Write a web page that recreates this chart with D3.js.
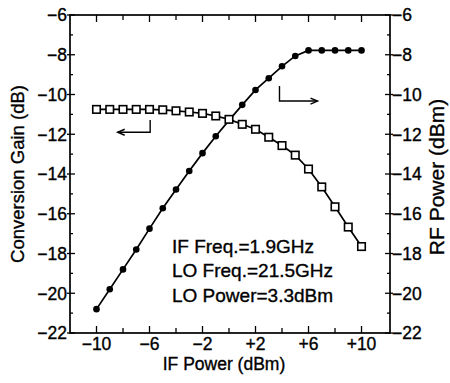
<!DOCTYPE html>
<html>
<head>
<meta charset="utf-8">
<script src="https://cdn.jsdelivr.net/npm/d3@7"></script>
<style>
  html, body { margin: 0; padding: 0; background: #fff; }
  svg { display: block; }
  text { font-family: "Liberation Sans", Arial, Helvetica, sans-serif; fill: #000; stroke: #000; stroke-width: 0.35px; }
</style>
</head>
<body>
<svg id="chart" width="450" height="383"></svg>
<script>
// ---- Data ----
const ifPower = [-10, -9, -8, -7, -6, -5, -4, -3, -2, -1, 0, 1, 2, 3, 4, 5, 6, 7, 8, 9, 10];
const conversionGain = [-10.75, -10.75, -10.75, -10.75, -10.75, -10.77, -10.82, -10.88, -10.95, -11.08, -11.25,
                        -11.5, -11.75, -12.15, -12.57, -13.05, -13.75, -14.65, -15.65, -16.67, -17.65];
const rfPower = [-20.8, -19.8, -18.8, -17.8, -16.75, -15.72, -14.78, -13.85, -12.95, -12.1, -11.3,
                 -10.52, -9.77, -9.18, -8.58, -8.06, -7.78, -7.78, -7.78, -7.78, -7.78];
const xTickValues = [-10, -8, -6, -4, -2, 0, 2, 4, 6, 8, 10];
const xTickLabels = ["\u221210", "", "\u22126", "", "\u22122", "", "+2", "", "+6", "", "+10"];
const yTickValues = [-22, -21, -20, -19, -18, -17, -16, -15, -14, -13, -12, -11, -10, -9, -8, -7, -6];
const yMajorLabels = ["\u221222", "\u221220", "\u221218", "\u221216", "\u221214", "\u221212", "\u221210", "\u22128", "\u22126"];
const annotationLines = ["IF Freq.=1.9GHz", "LO Freq.=21.5GHz", "LO Power=3.3dBm"];
const xTitle = "IF Power (dBm)";
const yLeftTitle = "Conversion Gain (dB)";
const yRightTitle = "RF Power (dBm)";

// ---- Layout ----
const L = 70, R = 390, T = 15, B = 333;
const svg = d3.select("#chart");
const x = d3.scaleLinear().domain([-12, 12.15]).range([L, R]);
const y = d3.scaleLinear().domain([-22, -6]).range([B, T]);

// frame
svg.append("rect").attr("x", L).attr("y", T).attr("width", R - L).attr("height", B - T)
  .attr("fill", "none").attr("stroke", "#000").attr("stroke-width", 1.7);

// x ticks (bottom & top, inward)
xTickValues.forEach((v, i) => {
  const len = xTickLabels[i] ? 7 : 5;
  svg.append("line").attr("x1", x(v)).attr("x2", x(v)).attr("y1", B).attr("y2", B - len)
    .attr("stroke", "#000").attr("stroke-width", 1.3);
  svg.append("line").attr("x1", x(v)).attr("x2", x(v)).attr("y1", T).attr("y2", T + len)
    .attr("stroke", "#000").attr("stroke-width", 1.3);
  if (xTickLabels[i]) {
    svg.append("text").attr("x", x(v)).attr("y", 350).attr("text-anchor", "middle")
      .attr("font-size", 17.5).text(xTickLabels[i]);
  }
});

// y ticks (left & right)
yTickValues.forEach(v => {
  const major = (v % 2 === 0);
  const inner = major ? 5 : 3;
  const outer = major ? 3 : 0;
  svg.append("line").attr("x1", L - outer).attr("x2", L + inner).attr("y1", y(v)).attr("y2", y(v))
    .attr("stroke", "#000").attr("stroke-width", 1.3);
  svg.append("line").attr("x1", R + outer).attr("x2", R - inner).attr("y1", y(v)).attr("y2", y(v))
    .attr("stroke", "#000").attr("stroke-width", 1.3);
});
const yMajor = yTickValues.filter(v => v % 2 === 0);
yMajor.forEach((v, i) => {
  svg.append("text").attr("x", L - 3).attr("y", y(v)).attr("dy", "0.36em").attr("text-anchor", "end")
    .attr("font-size", 17.5).text(yMajorLabels[i]);
  svg.append("text").attr("x", R + 2).attr("y", y(v)).attr("dy", "0.36em").attr("text-anchor", "start")
    .attr("font-size", 17.5).text(yMajorLabels[i]);
});

// axis titles
svg.append("text").attr("x", (L + R) / 2 - 6).attr("y", 370).attr("text-anchor", "middle")
  .attr("font-size", 17.5).text(xTitle);
svg.append("text").attr("transform", `translate(24,${(T + B) / 2}) rotate(-90)`)
  .attr("text-anchor", "middle").attr("font-size", 18.5).text(yLeftTitle);
svg.append("text").attr("transform", `translate(444,${(T + B) / 2 + 3}) rotate(-90)`)
  .attr("text-anchor", "middle").attr("font-size", 21).text(yRightTitle);

// lines
const line = d3.line().x(d => x(d[0])).y(d => y(d[1]));
const rfData = ifPower.map((v, i) => [v, rfPower[i]]);
const cgData = ifPower.map((v, i) => [v, conversionGain[i]]);
svg.append("path").datum(rfData).attr("d", line).attr("fill", "none").attr("stroke", "#000").attr("stroke-width", 1.7);
svg.append("path").datum(cgData).attr("d", line).attr("fill", "none").attr("stroke", "#000").attr("stroke-width", 1.7);

// markers
svg.selectAll("circle.rf").data(rfData).enter().append("circle").attr("class", "rf")
  .attr("cx", d => x(d[0])).attr("cy", d => y(d[1])).attr("r", 3.3).attr("fill", "#000");
const s = 7.5;
svg.selectAll("rect.cg").data(cgData).enter().append("rect").attr("class", "cg")
  .attr("x", d => x(d[0]) - s / 2).attr("y", d => y(d[1]) - s / 2).attr("width", s).attr("height", s)
  .attr("fill", "#fff").attr("stroke", "#000").attr("stroke-width", 1.6);

// arrows (annotations)
const arrowStroke = 1.4;
const la = { xv: -5.95, y1: -11.28, y2: -11.9, xe: -8.4 };
svg.append("path").attr("d", `M${x(la.xv)},${y(la.y1)} V${y(la.y2)} H${x(la.xe)}`)
  .attr("fill", "none").attr("stroke", "#000").attr("stroke-width", arrowStroke);
svg.append("path").attr("d", `M${x(la.xe) + 7},${y(la.y2) - 3} L${x(la.xe)},${y(la.y2)} L${x(la.xe) + 7},${y(la.y2) + 3}`)
  .attr("fill", "none").attr("stroke", "#000").attr("stroke-width", arrowStroke);
const ra = { xv: 3.81, y1: -9.57, y2: -10.33, xe: 6.68 };
svg.append("path").attr("d", `M${x(ra.xv)},${y(ra.y1)} V${y(ra.y2)} H${x(ra.xe)}`)
  .attr("fill", "none").attr("stroke", "#000").attr("stroke-width", arrowStroke);
svg.append("path").attr("d", `M${x(ra.xe) - 7},${y(ra.y2) - 3} L${x(ra.xe)},${y(ra.y2)} L${x(ra.xe) - 7},${y(ra.y2) + 3}`)
  .attr("fill", "none").attr("stroke", "#000").attr("stroke-width", arrowStroke);

// annotation text
annotationLines.forEach((t, i) => {
  svg.append("text").attr("x", 172).attr("y", 253 + i * 24.3).attr("font-size", 19).text(t);
});
</script>
</body>
</html>
